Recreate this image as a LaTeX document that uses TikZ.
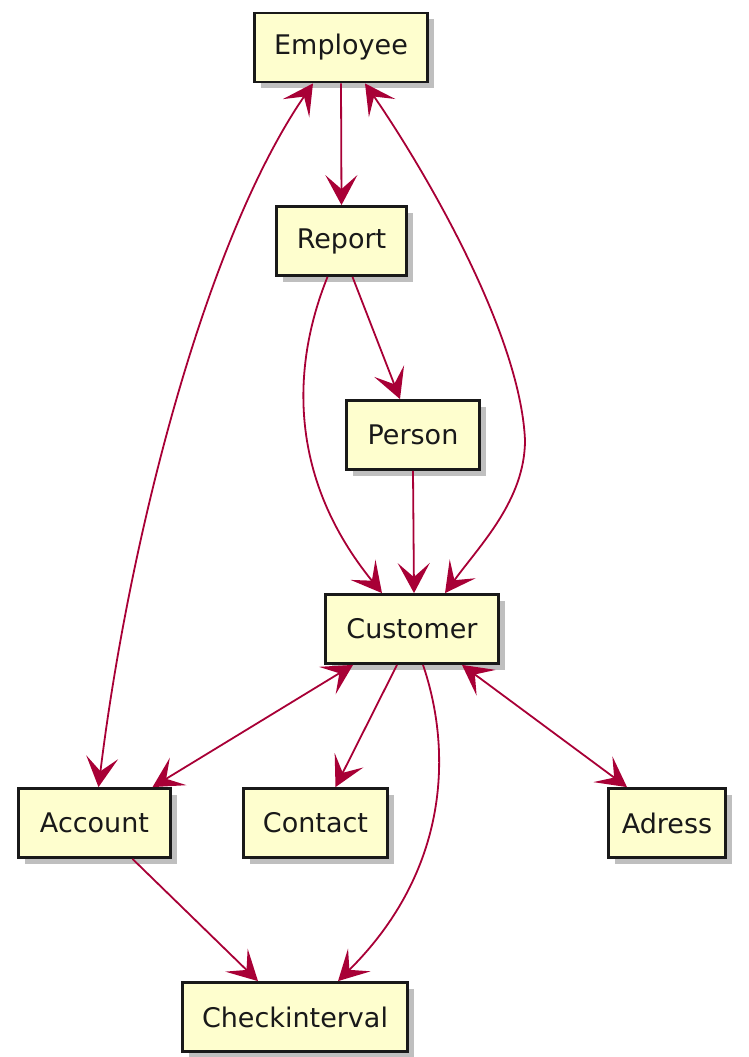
\documentclass[tikz,border=0pt]{standalone}
\usepackage{fontspec}
\setmainfont{DejaVu Sans}
\usetikzlibrary{arrows.meta,shadows}
\definecolor{boxfill}{HTML}{FEFECE}
\definecolor{linkred}{HTML}{A80036}

\begin{document}
\begin{tikzpicture}[x=1pt,y=-1pt,
            cls/.style = {draw=black!90, line width=2.8pt, fill=boxfill,
                minimum height=69pt, inner sep=0pt, text=black!90,
                font=\fontsize{27}{30}\selectfont,
                drop shadow={shadow xshift=6pt, shadow yshift=-6pt, opacity=0.25, fill=black}},
            link/.style = {draw=linkred, line width=1.8pt, -{Stealth[length=30pt,width=32pt,inset=14pt]}},
            both/.style = {link, {Stealth[length=30pt,width=32pt,inset=14pt]}-{Stealth[length=30pt,width=32pt,inset=14pt]}}]
            \useasboundingbox (0,0) rectangle (749,1057);

            \node[cls, minimum width=173pt] (emp)  at (341,47.5)  {Employee};
            \node[cls, minimum width=130pt] (rep)  at (341.5,241) {Report};
            \node[cls, minimum width=133pt] (per)  at (413,435)   {Person};
            \node[cls, minimum width=173pt] (cust) at (412,629)   {Customer};
            \node[cls, minimum width=152pt] (acc)  at (94.5,823)  {Account};
            \node[cls, minimum width=144pt] (cont) at (315.5,823) {Contact};
            \node[cls, minimum width=117pt] (adr)  at (667,823)   {Adress};
            \node[cls, minimum width=225pt] (chk)  at (295,1017)  {Checkinterval};

            % top part
            \draw[link] (emp.south) -- (rep.north);
            \draw[both] ([xshift=-28pt]emp.south) .. controls (203,244) and (128,547) .. ([xshift=4pt]acc.north);
            \draw[both] ([xshift=24pt]emp.south) .. controls (420,163) and (520,330) .. (525,440)
                .. controls (525,500) and (480,545) .. ([xshift=33pt]cust.north);
            \draw[link] ([xshift=-14pt]rep.south) .. controls (290,370) and (290,480) .. ([xshift=-30pt]cust.north);
            \draw[link] ([xshift=11pt]rep.south) -- ([xshift=-13pt]per.north);
            \draw[link] (per.south) -- ([xshift=2pt]cust.north);

            % bottom part
            \draw[both] ([xshift=-59pt]cust.south) -- ([xshift=58pt]acc.north);
            \draw[link] ([xshift=-15pt]cust.south) -- ([xshift=20pt]cont.north);
            \draw[link] ([xshift=11pt]cust.south) .. controls (452,750) and (450,870) .. ([xshift=43pt]chk.north);
            \draw[both] ([xshift=50pt]cust.south) -- ([xshift=-40pt]adr.north);
            \draw[link] ([xshift=38pt]acc.south) -- ([xshift=-37pt]chk.north);
        \end{tikzpicture}
\end{document}
